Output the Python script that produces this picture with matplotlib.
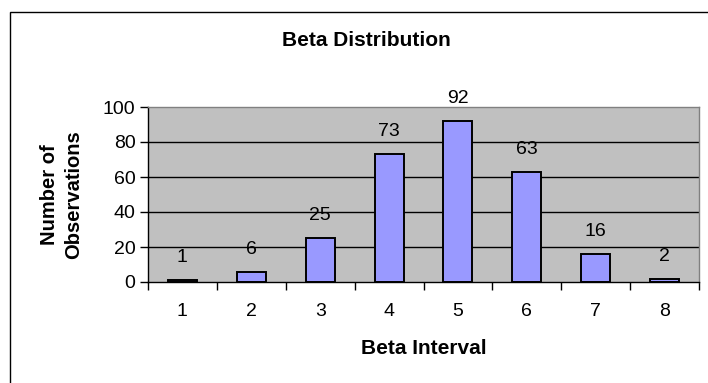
import matplotlib
matplotlib.use("Agg")
import matplotlib.pyplot as plt
from matplotlib.patches import Rectangle
from matplotlib.ticker import FixedLocator

plt.rcParams['font.family'] = ['Liberation Sans', 'DejaVu Sans']

intervals = [1, 2, 3, 4, 5, 6, 7, 8]
observations = [1, 6, 25, 73, 92, 63, 16, 2]
y_ticks = [0, 20, 40, 60, 80, 100]

W, H = 708, 383
fig = plt.figure(figsize=(W / 100, H / 100), dpi=100)
fig.patch.set_facecolor('white')

# chart frame (runs past the right and bottom edges)
fig.patches.append(Rectangle((9.5 / W, -0.2), 1.5, 1 - 11.5 / H + 0.2,
                             transform=fig.transFigure, fill=False,
                             edgecolor='black', linewidth=1.0, zorder=0))

left, right, top, bottom = 148 / W, 699 / W, 1 - 107 / H, 1 - 282 / H
ax = fig.add_axes([left, bottom, right - left, top - bottom])
ax.set_facecolor('#C0C0C0')

ax.set_xlim(0.5, 8.5)
ax.set_ylim(0, 100)

for y in y_ticks[1:-1]:
    ax.axhline(y, color='black', linewidth=1.0, zorder=1)

ax.bar(intervals, observations, width=0.42, color='#9999FF',
       edgecolor='black', linewidth=1.4, zorder=2)

for x, v in zip(intervals, observations):
    ax.annotate(str(v), (x, v), xytext=(0, 10), textcoords='offset points',
                ha='center', va='bottom', fontsize=14, zorder=3)

ax.set_yticks(y_ticks)
ax.set_xticks(intervals)
ax.set_xticklabels([str(i) for i in intervals])
ax.xaxis.set_minor_locator(FixedLocator([i + 0.5 for i in range(0, 9)]))
ax.tick_params(axis='x', which='major', length=0, labelsize=14, pad=15)
ax.tick_params(axis='x', which='minor', length=6, width=1.0, direction='out')
ax.tick_params(axis='y', length=6, width=1.0, direction='out', labelsize=14, pad=3)

ax.spines['left'].set_color('black')
ax.spines['bottom'].set_color('black')
ax.spines['top'].set_color('#808080')
ax.spines['right'].set_color('#808080')
for s in ax.spines.values():
    s.set_linewidth(1.0)

fig.text(366 / W, 1 - 41 / H, 'Beta Distribution', ha='center', va='center',
         fontsize=15, fontweight='bold')
fig.text((left + right) / 2, 1 - 349 / H, 'Beta Interval', ha='center', va='center',
         fontsize=15, fontweight='bold')
fig.text(62 / W, 1 - 195 / H, 'Number of\nObservations', ha='center', va='center',
         rotation=90, fontsize=14.5, fontweight='bold', multialignment='center',
         linespacing=1.35)

fig.savefig('out.png', dpi=100, facecolor='white')
